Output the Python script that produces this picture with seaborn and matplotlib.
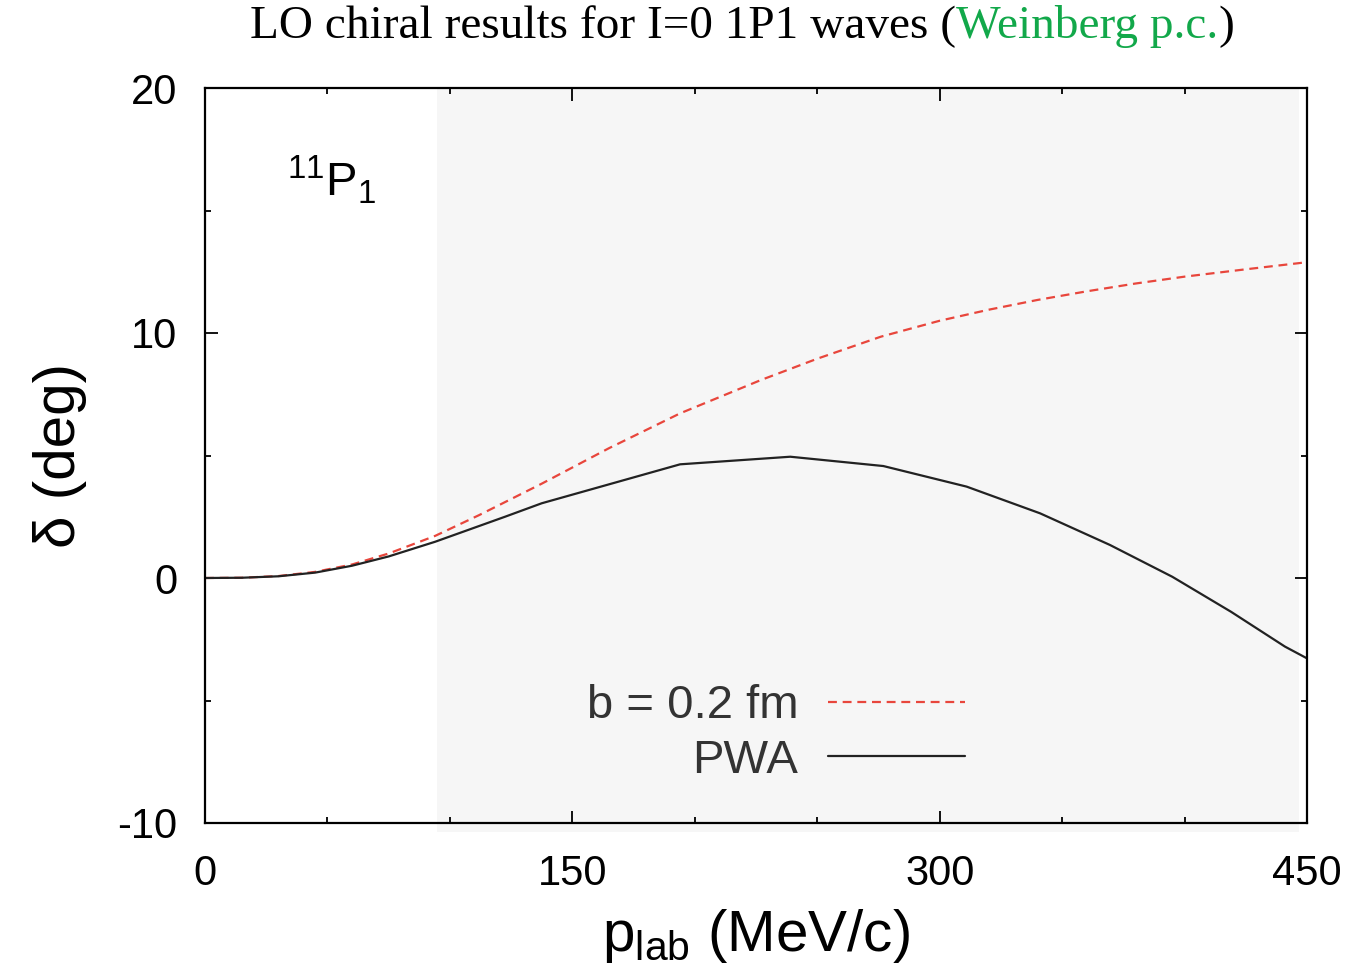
import numpy as np
import pandas as pd
import matplotlib
matplotlib.use("Agg")
import matplotlib.pyplot as plt
import seaborn as sns

# ---- data ----
pwa_p = [0, 15, 30, 45, 60, 75, 94, 122.5, 137.5, 194, 239, 277, 311, 341, 369.5, 395, 419, 441, 450]
pwa_d = [0, 0.01, 0.07, 0.22, 0.5, 0.88, 1.48, 2.5, 3.05, 4.64, 4.95, 4.57, 3.73, 2.64, 1.35, 0.05, -1.38, -2.8, -3.28]

lo_p = [0, 15, 30, 45, 60, 75, 94, 112, 137.5, 165, 194, 227, 250, 276, 300, 320, 340, 360, 380, 400, 425, 450]
lo_d = [0, 0.01, 0.08, 0.25, 0.55, 1.0, 1.72, 2.57, 3.85, 5.3, 6.72, 8.08, 8.95, 9.85, 10.5, 10.95, 11.35, 11.7, 12.02, 12.3, 12.6, 12.89]

series_labels = ["b = 0.2 fm", "PWA"]
x_ticks = [0, 150, 300, 450]
y_ticks = [-10, 0, 10, 20]
shade_range = [94.7, 446.7]

sns.set_theme(style="ticks")
plt.rcParams["font.family"] = ["Liberation Sans", "DejaVu Sans"]
plt.rcParams["mathtext.default"] = "regular"

fig = plt.figure(figsize=(13.58, 9.73), dpi=100)
ax = fig.add_axes([205 / 1358, 1 - 823 / 973, (1307 - 205) / 1358, (823 - 88) / 973])
ax.set_facecolor("white")

ax.axvspan(shade_range[0], shade_range[1], ymin=-0.0125, ymax=1.0, color="#f6f6f6",
           lw=0, zorder=0, clip_on=False)

df_lo = pd.DataFrame({"p": lo_p, "d": lo_d})
df_pwa = pd.DataFrame({"p": pwa_p, "d": pwa_d})
sns.lineplot(data=df_lo, x="p", y="d", ax=ax, color="#e8463c", lw=1.6, sort=False,
             label=series_labels[0], zorder=3)
ax.lines[-1].set_dashes([4, 2.6])
sns.lineplot(data=df_pwa, x="p", y="d", ax=ax, color="#222222", lw=1.6, sort=False,
             label=series_labels[1], zorder=3)

ax.set_xlim(0, 450)
ax.set_ylim(-10, 20)
ax.set_xticks(x_ticks)
ax.set_xticklabels([str(v) for v in x_ticks])
ax.set_yticks(y_ticks)
ax.set_yticklabels([str(v) for v in y_ticks])
ax.set_xticks(np.arange(0, 451, 50), minor=True)
ax.set_yticks(np.arange(-10, 21, 5), minor=True)
ax.tick_params(which="both", direction="in", top=True, right=True, color="black", width=1.3)
ax.tick_params(which="major", length=9, labelsize=30, labelcolor="black")
ax.tick_params(axis="x", which="major", pad=22)
ax.tick_params(axis="y", which="major", pad=20)
ax.tick_params(which="minor", length=4)
for s in ax.spines.values():
    s.set_linewidth(1.6)
    s.set_color("black")
    s.set_zorder(5)

ax.set_xlabel(r"p$_{lab}$ (MeV/c)", fontsize=42, labelpad=10, color="black")
ax.set_ylabel("δ (deg)", fontsize=42, labelpad=22, color="black")

ax.text(0.115, 0.875, r"$^{11}$P$_1$", fontsize=34, ha="center", va="center",
        transform=ax.transAxes, color="black")

leg = ax.legend(loc="lower right", bbox_to_anchor=(0.69, 0.055), frameon=False,
                markerfirst=False, fontsize=34, handlelength=2.9, handletextpad=0.64,
                labelspacing=0.22, borderpad=0, borderaxespad=0)
for t in leg.get_texts():
    t.set_color("#333333")

# title with coloured part
fig.canvas.draw()
renderer = fig.canvas.get_renderer()
parts = [("LO chiral results for I=0 1P1 waves (", "black"), ("Weinberg p.c.", "#12a84a"), (")", "black")]
tkw = dict(fontsize=34, family="Liberation Serif", va="center", ha="left")
texts = []
for s, c in parts:
    t = fig.text(0, 1 - 27 / 973, s, color=c, **tkw)
    texts.append(t)
widths = [t.get_window_extent(renderer).width / fig.bbox.width for t in texts]
total = sum(widths)
start = 742 / 1358 - total / 2
for t, w in zip(texts, widths):
    t.set_x(start)
    start += w

fig.savefig("out.png", dpi=100)
